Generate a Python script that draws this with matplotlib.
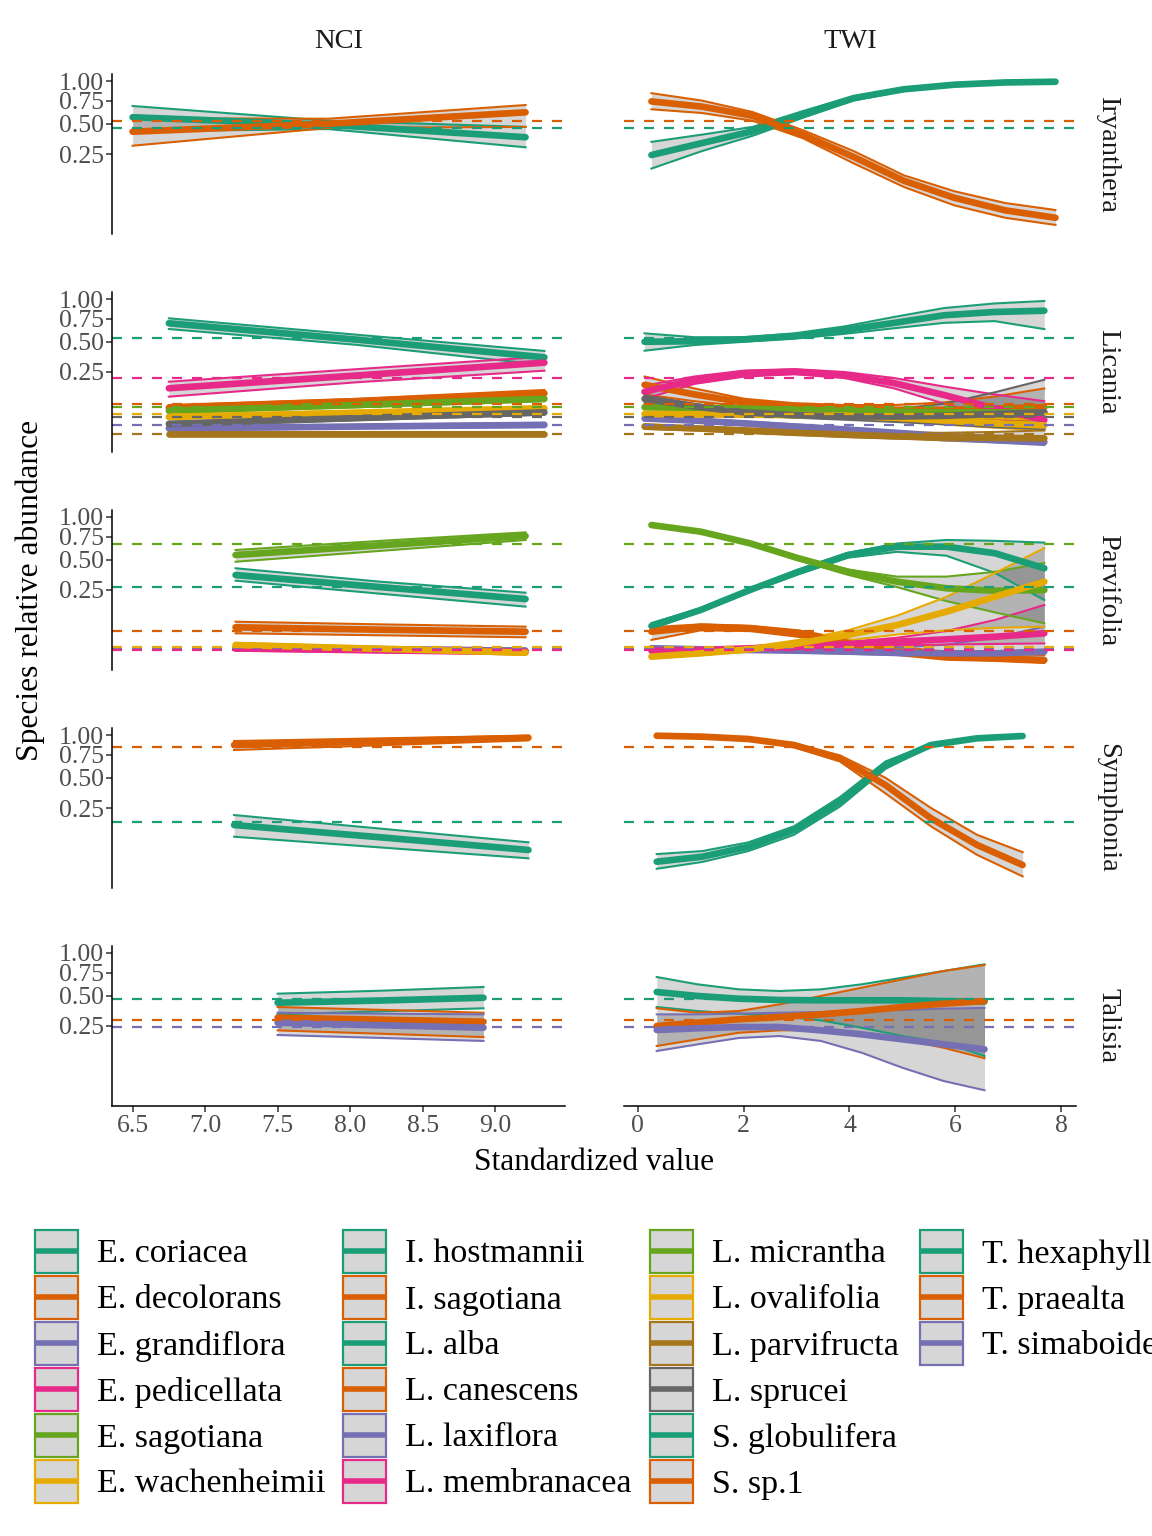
import numpy as np
import matplotlib
matplotlib.use("Agg")
import matplotlib.pyplot as plt
from matplotlib.patches import Rectangle

plt.rcParams["font.family"] = ["Liberation Serif", "DejaVu Serif"]

DARK2 = ["#1B9E77", "#D95F02", "#7570B3", "#E7298A",
         "#66A61E", "#E6AB02", "#A6761D", "#666666"]

GENERA = ["Iryanthera", "Licania", "Parvifolia", "Symphonia", "Talisia"]
COVARIATES = ["NCI", "TWI"]

# ---- Iryanthera ----
IRY_SPECIES = ["I. hostmannii", "I. sagotiana"]
IRY_OBS = [0.462, 0.527]
IRY_NCI_X = [6.50, 7.85, 9.21]
IRY_NCI_MEAN = [[0.565, 0.49, 0.378], [0.426, 0.50, 0.617]]
IRY_NCI_LOW = [[0.43, 0.45, 0.298], [0.31, 0.46, 0.47]]
IRY_NCI_HIGH = [[0.687, 0.53, 0.47], [0.555, 0.55, 0.698]]
IRY_TWI_X = [0.26, 1.21, 2.17, 3.12, 4.08, 5.03, 5.98, 6.94, 7.89]
IRY_TWI_MEAN = [[0.243, 0.33, 0.43, 0.60, 0.78, 0.89, 0.95, 0.98, 0.99],
                [0.74, 0.68, 0.58, 0.40, 0.23, 0.10, 0.04, 0.013, 0.004]]
IRY_TWI_LOW = [[0.16, 0.27, 0.39, 0.56, 0.75, 0.87, 0.94, 0.975, 0.988],
               [0.65, 0.61, 0.53, 0.37, 0.19, 0.075, 0.022, 0.004, 0.0002]]
IRY_TWI_HIGH = [[0.34, 0.40, 0.47, 0.63, 0.80, 0.91, 0.96, 0.985, 0.995],
                [0.84, 0.75, 0.62, 0.44, 0.27, 0.125, 0.06, 0.027, 0.0135]]

# ---- Licania ----
LIC_SPECIES = ["L. alba", "L. canescens", "L. laxiflora", "L. membranacea",
               "L. micrantha", "L. ovalifolia", "L. parvifructa", "L. sprucei"]
LIC_OBS = [0.534, 0.079, 0.0182, 0.2125, 0.0676, 0.046, 0.0056, 0.037]
LIC_NCI_X = [6.75, 8.05, 9.34]
LIC_NCI_MEAN = [[0.695, 0.52, 0.361], [0.065, 0.09, 0.125], [0.013, 0.016, 0.019],
                [0.151, 0.227, 0.318], [0.055, 0.075, 0.10], [0.037, 0.049, 0.063],
                [0.0056, 0.0056, 0.0056], [0.021, 0.034, 0.05]]
LIC_NCI_LOW = [[0.631, 0.47, 0.30], [0.055, 0.078, 0.105], [0.010, 0.013, 0.015],
               [0.1095, 0.185, 0.259], [0.048, 0.067, 0.09], [0.033, 0.044, 0.056],
               [0.004, 0.004, 0.004], [0.017, 0.029, 0.043]]
LIC_NCI_HIGH = [[0.753, 0.57, 0.415], [0.075, 0.10, 0.142], [0.016, 0.019, 0.023],
                [0.188, 0.27, 0.366], [0.062, 0.083, 0.11], [0.042, 0.055, 0.07],
                [0.0075, 0.0075, 0.0075], [0.025, 0.039, 0.058]]
LIC_TWI_X = [0.13, 1.07, 2.02, 2.96, 3.91, 4.85, 5.79, 6.74, 7.68]
LIC_TWI_MEAN = [
    [0.50, 0.505, 0.524, 0.557, 0.62, 0.70, 0.79, 0.83, 0.846],
    [0.17, 0.12, 0.085, 0.07, 0.063, 0.058, 0.058, 0.062, 0.067],
    [0.033, 0.028, 0.022, 0.016, 0.011, 0.006, 0.003, 0.0012, 0.0004],
    [0.133, 0.198, 0.241, 0.252, 0.230, 0.179, 0.117, 0.063, 0.029],
    [0.067, 0.065, 0.062, 0.058, 0.055, 0.052, 0.050, 0.05, 0.05],
    [0.045, 0.044, 0.043, 0.042, 0.04, 0.035, 0.028, 0.022, 0.018],
    [0.016, 0.013, 0.010, 0.007, 0.005, 0.0035, 0.0028, 0.0024, 0.0021],
    [0.10, 0.07, 0.05, 0.042, 0.038, 0.038, 0.040, 0.045, 0.05],
]
LIC_TWI_LOW = [
    [0.417, 0.469, 0.50, 0.53, 0.58, 0.64, 0.70, 0.72, 0.63],
    [0.12, 0.09, 0.07, 0.058, 0.052, 0.045, 0.038, 0.032, 0.028],
    [0.028, 0.024, 0.018, 0.012, 0.007, 0.003, 0.001, 0.0003, 0.0],
    [0.10, 0.175, 0.22, 0.235, 0.21, 0.15, 0.08, 0.035, 0.012],
    [0.06, 0.058, 0.055, 0.052, 0.048, 0.044, 0.04, 0.035, 0.032],
    [0.04, 0.039, 0.038, 0.036, 0.033, 0.027, 0.02, 0.014, 0.01],
    [0.012, 0.01, 0.007, 0.005, 0.003, 0.002, 0.001, 0.0005, 0.0002],
    [0.085, 0.06, 0.043, 0.035, 0.03, 0.025, 0.02, 0.015, 0.012],
]
LIC_TWI_HIGH = [
    [0.585, 0.545, 0.545, 0.585, 0.66, 0.77, 0.88, 0.94, 0.973],
    [0.22, 0.15, 0.10, 0.082, 0.075, 0.075, 0.085, 0.11, 0.15],
    [0.038, 0.032, 0.026, 0.02, 0.015, 0.01, 0.006, 0.004, 0.003],
    [0.165, 0.22, 0.26, 0.27, 0.25, 0.21, 0.16, 0.12, 0.09],
    [0.075, 0.072, 0.068, 0.064, 0.061, 0.06, 0.062, 0.07, 0.075],
    [0.05, 0.049, 0.048, 0.047, 0.046, 0.042, 0.037, 0.033, 0.03],
    [0.02, 0.016, 0.013, 0.01, 0.008, 0.007, 0.007, 0.008, 0.01],
    [0.115, 0.08, 0.058, 0.05, 0.05, 0.06, 0.08, 0.13, 0.20],
]

# ---- Parvifolia ----
PAR_SPECIES = ["E. coriacea", "E. decolorans", "E. grandiflora",
               "E. pedicellata", "E. sagotiana", "E. wachenheimii"]
PAR_OBS = [0.273, 0.048, 0.009, 0.0079, 0.661, 0.012]
PAR_NCI_X = [7.21, 8.21, 9.21]
PAR_NCI_MEAN = [[0.363, 0.27, 0.192], [0.0598, 0.052, 0.046], [0.011, 0.009, 0.007],
                [0.010, 0.008, 0.006], [0.547, 0.65, 0.757], [0.0152, 0.0095, 0.005]]
PAR_NCI_LOW = [[0.318, 0.225, 0.149], [0.0414, 0.036, 0.031], [0.008, 0.006, 0.004],
               [0.007, 0.005, 0.0035], [0.481, 0.59, 0.71], [0.012, 0.007, 0.003]]
PAR_NCI_HIGH = [[0.421, 0.31, 0.232], [0.080, 0.07, 0.062], [0.015, 0.012, 0.010],
                [0.014, 0.011, 0.009], [0.599, 0.70, 0.801], [0.019, 0.012, 0.008]]
PAR_TWI_X = [0.26, 1.19, 2.12, 3.04, 3.97, 4.90, 5.83, 6.75, 7.68]
PAR_TWI_MEAN = [
    [0.064, 0.132, 0.25, 0.391, 0.547, 0.635, 0.635, 0.565, 0.421],
    [0.046, 0.0618, 0.0565, 0.0414, 0.0182, 0.006, 0.0019, 0.0011, 0.0004],
    [0.0102, 0.0088, 0.0079, 0.0071, 0.006, 0.005, 0.0044, 0.0044, 0.006],
    [0.0071, 0.0079, 0.0102, 0.0125, 0.0169, 0.0213, 0.0263, 0.0324, 0.0414],
    [0.893, 0.809, 0.672, 0.514, 0.391, 0.31, 0.262, 0.245, 0.25],
    [0.0019, 0.0044, 0.0088, 0.0182, 0.0368, 0.0677, 0.1235, 0.206, 0.31],
]
PAR_TWI_LOW = [
    [0.055, 0.125, 0.24, 0.37, 0.52, 0.58, 0.54, 0.38, 0.186],
    [0.025, 0.05, 0.048, 0.032, 0.012, 0.003, 0.0005, 0.0002, 0.0],
    [0.0085, 0.0072, 0.0062, 0.0052, 0.004, 0.0028, 0.0018, 0.001, 0.0005],
    [0.0055, 0.0065, 0.0085, 0.0105, 0.013, 0.015, 0.016, 0.017, 0.018],
    [0.875, 0.795, 0.655, 0.495, 0.365, 0.27, 0.18, 0.12, 0.074],
    [0.001, 0.003, 0.006, 0.012, 0.024, 0.038, 0.05, 0.058, 0.062],
]
PAR_TWI_HIGH = [
    [0.075, 0.14, 0.26, 0.41, 0.57, 0.67, 0.71, 0.70, 0.68],
    [0.06, 0.07, 0.065, 0.05, 0.026, 0.012, 0.006, 0.004, 0.003],
    [0.012, 0.011, 0.010, 0.0095, 0.0095, 0.011, 0.016, 0.03, 0.062],
    [0.009, 0.0095, 0.012, 0.015, 0.021, 0.03, 0.048, 0.087, 0.158],
    [0.91, 0.82, 0.69, 0.53, 0.41, 0.35, 0.35, 0.39, 0.47],
    [0.003, 0.006, 0.012, 0.025, 0.05, 0.105, 0.205, 0.38, 0.62],
]

# ---- Symphonia ----
SYM_SPECIES = ["S. globulifera", "S. sp.1"]
SYM_OBS = [0.1616, 0.846]
SYM_NCI_X = [7.20, 8.22, 9.23]
SYM_NCI_MEAN = [[0.147, 0.089, 0.0451], [0.868, 0.915, 0.963]]
SYM_NCI_LOW = [[0.092, 0.0525, 0.0241], [0.805, 0.865, 0.928]]
SYM_NCI_HIGH = [[0.204, 0.128, 0.0702], [0.919, 0.955, 0.99]]
SYM_TWI_X = [0.36, 1.22, 2.09, 2.95, 3.82, 4.68, 5.54, 6.41, 7.27]
SYM_TWI_MEAN = [[0.0175, 0.0277, 0.0552, 0.122, 0.295, 0.631, 0.868, 0.955, 0.986],
                [0.99, 0.977, 0.946, 0.868, 0.706, 0.432, 0.184, 0.061, 0.012]]
SYM_TWI_LOW = [[0.007, 0.017, 0.042, 0.10, 0.26, 0.59, 0.85, 0.948, 0.982],
               [0.985, 0.968, 0.93, 0.84, 0.67, 0.36, 0.14, 0.032, 0.001]]
SYM_TWI_HIGH = [[0.034, 0.042, 0.07, 0.14, 0.33, 0.67, 0.885, 0.962, 0.99],
                [0.995, 0.985, 0.958, 0.89, 0.74, 0.50, 0.25, 0.10, 0.039]]

# ---- Talisia ----
TAL_SPECIES = ["T. hexaphylla", "T. praealta", "T. simaboides"]
TAL_OBS = [0.466, 0.2905, 0.243]
TAL_NCI_X = [7.50, 8.21, 8.92]
TAL_NCI_MEAN = [[0.435, 0.455, 0.481], [0.310, 0.295, 0.280], [0.273, 0.255, 0.2385]]
TAL_NCI_LOW = [[0.336, 0.36, 0.386], [0.221, 0.20, 0.18], [0.192, 0.175, 0.158]]
TAL_NCI_HIGH = [[0.5206, 0.55, 0.589], [0.397, 0.373, 0.349], [0.349, 0.342, 0.336]]
TAL_TWI_X = [0.36, 1.13, 1.91, 2.68, 3.46, 4.23, 5.00, 5.78, 6.55]
TAL_TWI_MEAN = [[0.537, 0.498, 0.472, 0.46, 0.457, 0.457, 0.457, 0.45, 0.445],
                [0.25, 0.273, 0.298, 0.315, 0.336, 0.363, 0.397, 0.426, 0.45],
                [0.2233, 0.2344, 0.243, 0.243, 0.221, 0.196, 0.167, 0.140, 0.1159]]
TAL_TWI_LOW = [[0.397, 0.363, 0.342, 0.323, 0.29, 0.2385, 0.186, 0.149, 0.0867],
               [0.132, 0.167, 0.206, 0.221, 0.223, 0.196, 0.167, 0.123, 0.078],
               [0.108, 0.140, 0.1746, 0.186, 0.158, 0.1005, 0.0458, 0.0151, 0.0036]]
TAL_TWI_HIGH = [[0.698, 0.617, 0.564, 0.547, 0.564, 0.617, 0.69, 0.769, 0.851],
                [0.386, 0.349, 0.363, 0.42, 0.498, 0.581, 0.672, 0.769, 0.842],
                [0.336, 0.336, 0.342, 0.349, 0.355, 0.363, 0.372, 0.383, 0.389]]

PANELS = {
    "Iryanthera": (IRY_SPECIES, IRY_OBS,
                   (IRY_NCI_X, IRY_NCI_MEAN, IRY_NCI_LOW, IRY_NCI_HIGH),
                   (IRY_TWI_X, IRY_TWI_MEAN, IRY_TWI_LOW, IRY_TWI_HIGH)),
    "Licania": (LIC_SPECIES, LIC_OBS,
                (LIC_NCI_X, LIC_NCI_MEAN, LIC_NCI_LOW, LIC_NCI_HIGH),
                (LIC_TWI_X, LIC_TWI_MEAN, LIC_TWI_LOW, LIC_TWI_HIGH)),
    "Parvifolia": (PAR_SPECIES, PAR_OBS,
                   (PAR_NCI_X, PAR_NCI_MEAN, PAR_NCI_LOW, PAR_NCI_HIGH),
                   (PAR_TWI_X, PAR_TWI_MEAN, PAR_TWI_LOW, PAR_TWI_HIGH)),
    "Symphonia": (SYM_SPECIES, SYM_OBS,
                  (SYM_NCI_X, SYM_NCI_MEAN, SYM_NCI_LOW, SYM_NCI_HIGH),
                  (SYM_TWI_X, SYM_TWI_MEAN, SYM_TWI_LOW, SYM_TWI_HIGH)),
    "Talisia": (TAL_SPECIES, TAL_OBS,
                (TAL_NCI_X, TAL_NCI_MEAN, TAL_NCI_LOW, TAL_NCI_HIGH),
                (TAL_TWI_X, TAL_TWI_MEAN, TAL_TWI_LOW, TAL_TWI_HIGH)),
}

Y_TICKS = [0.25, 0.50, 0.75, 1.00]
NCI_TICKS = [6.5, 7.0, 7.5, 8.0, 8.5, 9.0]
TWI_TICKS = [0, 2, 4, 6, 8]

W, H = 1152, 1536
ROW_TOP, ROW_STEP, PANEL_H = 73.7, 218.0, 160.6
COL_SPANS = [(112, 565), (624, 1076)]

TICK_COLOR = "#4D4D4D"
TEXT_COLOR = "#1A1A1A"


def fx(px):
    return px / W


def fy(py):
    return 1 - py / H


def sq(values):
    return np.sqrt(np.clip(np.asarray(values, dtype=float), 0, None))


def column_limits(col):
    xs = np.concatenate([np.asarray(PANELS[g][2 + col][0]) for g in GENERA])
    lo, hi = xs.min(), xs.max()
    pad = 0.05 * (hi - lo)
    return lo - pad, hi + pad


def draw_panel(ax, x, means, lows, highs, obs, colors):
    x = np.asarray(x)
    for lo, hi in zip(lows, highs):
        ax.fill_between(x, sq(lo), sq(hi), color="black", alpha=0.16, linewidth=0)
    for c, lo, hi in zip(colors, lows, highs):
        ax.plot(x, sq(lo), color=c, lw=1.5)
        ax.plot(x, sq(hi), color=c, lw=1.5)
    for c, m in zip(colors, means):
        ax.plot(x, sq(m), color=c, lw=4.8, solid_capstyle="round",
                solid_joinstyle="round")
    for c, o in zip(colors, obs):
        ax.axhline(np.sqrt(o), color=c, lw=1.6, dashes=(4.5, 4.5))


fig = plt.figure(figsize=(W / 100, H / 100), dpi=100)
xlims = [column_limits(0), column_limits(1)]

for r, genus in enumerate(GENERA):
    species, obs, nci, twi = PANELS[genus]
    colors = DARK2[:len(species)]
    top = ROW_TOP + r * ROW_STEP
    bottom = top + PANEL_H
    for c, (left, right) in enumerate(COL_SPANS):
        ax = fig.add_axes([fx(left), fy(bottom), (right - left) / W, PANEL_H / H])
        x, means, lows, highs = (nci, twi)[c]
        draw_panel(ax, x, means, lows, highs, obs, colors)
        ax.set_xlim(*xlims[c])
        ax.set_ylim(-0.05, 1.05)
        ax.patch.set_alpha(0)
        for side in ["top", "right"]:
            ax.spines[side].set_visible(False)
        ax.spines["left"].set_linewidth(1.1)
        ax.spines["bottom"].set_linewidth(1.1)
        ax.tick_params(length=4, width=1.1, color="#333333",
                       labelsize=18.5, labelcolor=TICK_COLOR, pad=2)
        if c == 0:
            ax.set_yticks(np.sqrt(Y_TICKS))
            ax.set_yticklabels([f"{t:.2f}" for t in Y_TICKS])
        else:
            ax.spines["left"].set_visible(False)
            ax.set_yticks([])
        if r == len(GENERA) - 1:
            ticks = NCI_TICKS if c == 0 else TWI_TICKS
            ax.set_xticks(ticks)
            ax.set_xticklabels([f"{t:.1f}" if c == 0 else f"{t:d}" for t in ticks])
        else:
            ax.spines["bottom"].set_visible(False)
            ax.set_xticks([])
        if r == 0:
            fig.text(fx((left + right) / 2), fy(42), COVARIATES[c],
                     ha="center", va="center", fontsize=20.5, color=TEXT_COLOR)
    fig.text(fx(1108), fy((top + bottom) / 2), genus, rotation=270,
             ha="center", va="center", fontsize=20.5, color=TEXT_COLOR)

fig.text(fx(594), fy(1163), "Standardized value", ha="center", va="center",
         fontsize=22.7, color="black")
fig.text(fx(30), fy(590), "Species relative abundance", rotation=90,
         ha="center", va="center", fontsize=22.7, color="black")

# legend, drawn in pixel coordinates on an overlay
leg = fig.add_axes([0, 0, 1, 1])
leg.set_xlim(0, W)
leg.set_ylim(H, 0)
leg.axis("off")
leg.patch.set_alpha(0)

entries = []
for genus in GENERA:
    species = PANELS[genus][0]
    entries += list(zip(species, DARK2[:len(species)]))
entries.sort(key=lambda e: e[0])

KEY_LEFT = [35, 343, 650, 920]
for i, (name, color) in enumerate(entries):
    col, row = divmod(i, 6)
    cy = 1251 + 46 * row
    kx = KEY_LEFT[col]
    leg.add_patch(Rectangle((kx, cy - 21.5), 43, 43, facecolor="black",
                            alpha=0.16, linewidth=0))
    leg.add_patch(Rectangle((kx, cy - 21.5), 43, 43, facecolor="none",
                            edgecolor=color, linewidth=1.6))
    leg.plot([kx + 2, kx + 41], [cy, cy], color=color, lw=4)
    leg.text(kx + 62, cy + 11.5, name, ha="left", va="baseline",
             fontsize=24.5, color="black")

fig.savefig("out.png", dpi=100)
